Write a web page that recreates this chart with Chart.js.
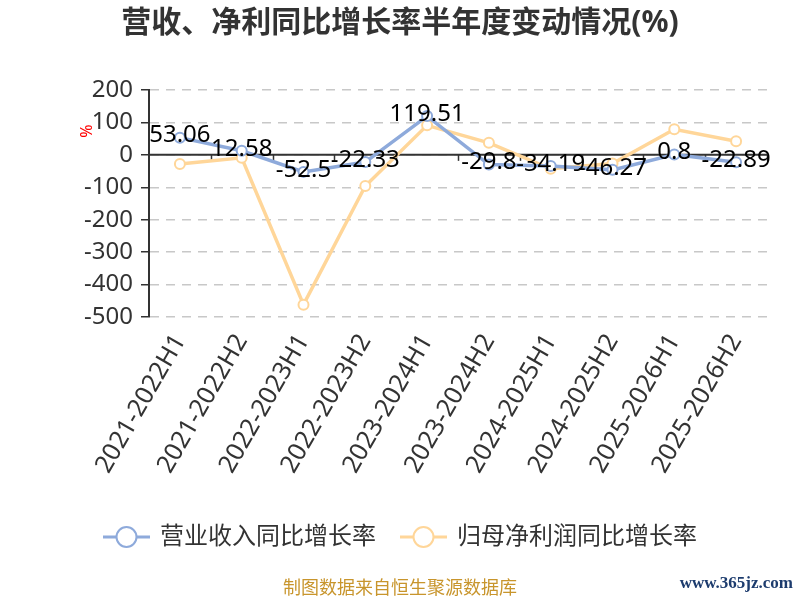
<!DOCTYPE html>
<html>
<head>
<meta charset="utf-8">
<script src="https://cdn.jsdelivr.net/npm/chart.js@4/dist/chart.umd.min.js"></script>
<style>
  html, body { margin: 0; padding: 0; background: #fff; }
  #wrap { width: 800px; height: 600px; position: relative; }
</style>
</head>
<body>
<div id="wrap"><canvas id="myChart" width="800" height="600"></canvas></div>
<script>
const periods = ["2021-2022H1", "2021-2022H2", "2022-2023H1", "2022-2023H2", "2023-2024H1",
                 "2023-2024H2", "2024-2025H1", "2024-2025H2", "2025-2026H1", "2025-2026H2"];
const revenueGrowth = [53.06, 12.58, -52.5, -22.33, 119.51, -29.8, -34.19, -46.27, 0.8, -22.89];
const profitGrowth = [-28, -9, -462, -96, 91, 37, -43, -27, 79, 42];
const yTicks = { min: -500, max: 200, step: 100 };

const titleText = "营收、净利同比增长率半年度变动情况(%)";
const legendNames = ["营业收入同比增长率", "归母净利润同比增长率"];
const footerText = "制图数据来自恒生聚源数据库";
const siteText = "www.365jz.com";

const blue = "#8eaadb";
const orange = "#ffd699";
const FONT = '"Noto Sans", "Noto Sans CJK SC", sans-serif';

// zero line with small ticks at category boundaries
const zeroLine = {
    id: "zeroLine",
    beforeDatasetsDraw(chart) {
        const { ctx, chartArea, scales: { x, y } } = chart;
        const y0 = y.getPixelForValue(0);
        ctx.save();
        ctx.strokeStyle = "#333";
        ctx.lineWidth = 2;
        ctx.beginPath();
        ctx.moveTo(chartArea.left, y0);
        ctx.lineTo(chartArea.right, y0);
        ctx.stroke();
        ctx.lineWidth = 1.5;
        const step = x.getPixelForValue(1) - x.getPixelForValue(0);
        for (let i = 1; i <= periods.length; i++) {
            const px = Math.round(x.getPixelForValue(i) - step / 2) + 0.5;
            ctx.beginPath();
            ctx.moveTo(px, y0);
            ctx.lineTo(px, y0 + 6);
            ctx.stroke();
        }
        ctx.restore();
    }
};

// value labels on the revenue series
const valueLabels = {
    id: "valueLabels",
    afterDatasetsDraw(chart) {
        const { ctx } = chart;
        const meta = chart.getDatasetMeta(0);
        ctx.save();
        ctx.font = "24px " + FONT;
        ctx.fillStyle = "#000";
        ctx.textAlign = "center";
        ctx.textBaseline = "middle";
        meta.data.forEach((pt, i) => {
            ctx.fillText(String(revenueGrowth[i]), pt.x, pt.y - 2);
        });
        ctx.restore();
    }
};

// title, legend, footer, axis unit
const decorations = {
    id: "decorations",
    afterDraw(chart) {
        const { ctx } = chart;
        ctx.save();
        ctx.fillStyle = "#333";
        ctx.textAlign = "center";
        ctx.textBaseline = "middle";
        ctx.font = "bold 30px " + FONT;
        ctx.fillText(titleText, 400, 23);

        // unit
        ctx.save();
        ctx.translate(87, 131);
        ctx.rotate(-Math.PI / 2);
        ctx.fillStyle = "#f00";
        ctx.font = "16px " + FONT;
        ctx.fillText("%", 0, 0);
        ctx.restore();

        // legend
        const items = [
            { x: 103, color: blue, name: legendNames[0] },
            { x: 400, color: orange, name: legendNames[1] }
        ];
        ctx.font = "24px " + FONT;
        ctx.textAlign = "left";
        items.forEach(it => {
            const ly = 537;
            ctx.strokeStyle = it.color;
            ctx.lineWidth = 3;
            ctx.beginPath();
            ctx.moveTo(it.x, ly);
            ctx.lineTo(it.x + 47, ly);
            ctx.stroke();
            ctx.fillStyle = "#fff";
            ctx.lineWidth = 2;
            ctx.beginPath();
            ctx.arc(it.x + 23.5, ly, 10, 0, Math.PI * 2);
            ctx.fill();
            ctx.stroke();
            ctx.fillStyle = "#333";
            ctx.fillText(it.name, it.x + 57, ly);
        });

        // footer
        ctx.textAlign = "center";
        ctx.fillStyle = "#c8952c";
        ctx.font = "18px " + FONT;
        ctx.fillText(footerText, 400, 589);
        ctx.textAlign = "right";
        ctx.fillStyle = "#1d3c6e";
        ctx.font = "bold 17px 'Liberation Serif', serif";
        ctx.fillText(siteText, 793, 584);
        ctx.restore();
    }
};

const ctx = document.getElementById("myChart").getContext("2d");
new Chart(ctx, {
    type: "line",
    data: {
        labels: periods,
        datasets: [
            { label: legendNames[0], data: revenueGrowth, borderColor: blue },
            { label: legendNames[1], data: profitGrowth, borderColor: orange }
        ].map(ds => ({
            ...ds,
            backgroundColor: "#fff",
            pointBackgroundColor: "#fff",
            borderWidth: 3.5,
            pointRadius: 5,
            pointBorderWidth: 2,
            tension: 0
        }))
    },
    options: {
        responsive: false,
        animation: false,
        layout: { padding: { top: 90, right: 33, left: 0, bottom: 0 } },
        plugins: {
            legend: { display: false },
            title: { display: false },
            tooltip: { enabled: false }
        },
        scales: {
            x: {
                offset: true,
                grid: { display: false, drawTicks: false },
                border: { display: false },
                ticks: {
                    maxRotation: 60,
                    minRotation: 60,
                    padding: 12,
                    color: "#333",
                    font: { size: 25, family: FONT }
                },
                afterFit: s => { s.height = 283; }
            },
            y: {
                min: yTicks.min,
                max: yTicks.max,
                ticks: {
                    stepSize: yTicks.step,
                    padding: 8,
                    color: "#333",
                    font: { size: 24, family: FONT }
                },
                grid: {
                    color: "#c8c8c8",
                    lineWidth: 1.5,
                    tickColor: "#333",
                    tickLength: 8,
                    tickBorderDash: []
                },
                border: { display: true, color: "#333", width: 2, dash: [9, 7] },
                afterFit: s => { s.width = 149; }
            }
        }
    },
    plugins: [zeroLine, valueLabels, decorations]
});
</script>
</body>
</html>
